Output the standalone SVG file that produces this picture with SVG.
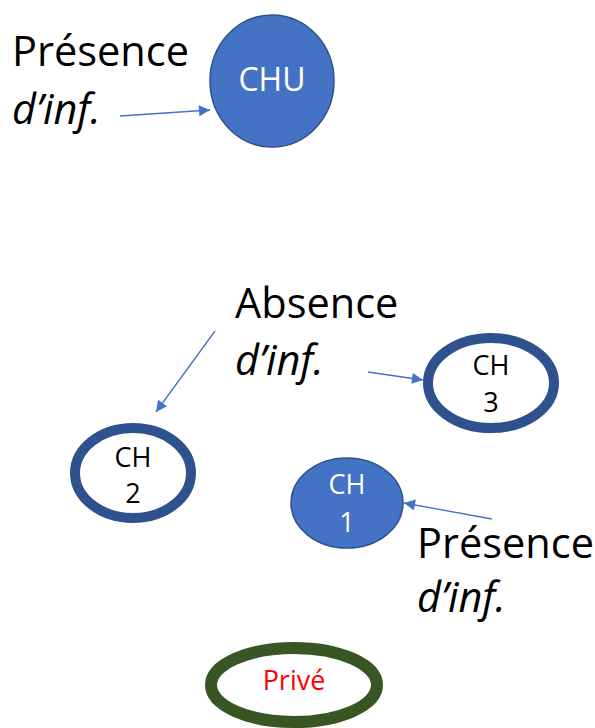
<svg xmlns="http://www.w3.org/2000/svg" width="595" height="728" viewBox="0 0 595 728">
  <defs>
    <marker id="arrow" viewBox="0 0 10 10" refX="10" refY="5" markerWidth="15" markerHeight="11" orient="auto" markerUnits="userSpaceOnUse">
      <path d="M0,0 L10,5 L0,10 Z" fill="#4472C4"/>
    </marker>
    <style>
      .lbl { font-family: "Open Sans", "Liberation Sans", sans-serif; font-size: 41.5px; fill: #000; }
      .it { font-style: italic; }
      .node-txt { font-family: "Open Sans", "Liberation Sans", sans-serif; font-size: 27px; text-anchor: middle; }
      .solid { fill: #4472C4; stroke: #2F528F; stroke-width: 1.5; }
      .ring { fill: #fff; stroke: #2F528F; stroke-width: 10; }
      .conn { stroke: #4472C4; stroke-width: 1.3; fill: none; marker-end: url(#arrow); }
    </style>
  </defs>

  <rect width="595" height="728" fill="#fff"/>

  <!-- labels -->
  <g id="label-top">
    <text class="lbl" x="12" y="66">Présence</text>
    <text class="lbl it" x="12" y="124">d’inf.</text>
  </g>
  <g id="label-absence">
    <text class="lbl" x="235" y="318">Absence</text>
    <text class="lbl it" x="235" y="375">d’inf.</text>
  </g>
  <g id="label-bottom">
    <text class="lbl" x="417" y="558">Présence</text>
    <text class="lbl it" x="417" y="612">d’inf.</text>
  </g>

  <!-- nodes -->
  <g id="chu">
    <ellipse class="solid" cx="272" cy="81" rx="62" ry="66"/>
    <text class="node-txt" x="272" y="91" fill="#fff" style="font-size:32px">CHU</text>
  </g>
  <g id="ch3">
    <ellipse class="ring" cx="491" cy="383" rx="63" ry="45"/>
    <text class="node-txt" x="491" y="375" fill="#000">CH</text>
    <text class="node-txt" x="491" y="412" fill="#000">3</text>
  </g>
  <g id="ch2">
    <ellipse class="ring" cx="133" cy="473" rx="58" ry="45"/>
    <text class="node-txt" x="133" y="467" fill="#000">CH</text>
    <text class="node-txt" x="133" y="503" fill="#000">2</text>
  </g>
  <g id="ch1">
    <ellipse class="solid" cx="347" cy="503" rx="56" ry="45"/>
    <text class="node-txt" x="347" y="494" fill="#fff">CH</text>
    <text class="node-txt" x="347" y="532" fill="#fff">1</text>
  </g>
  <g id="prive">
    <ellipse cx="294" cy="685" rx="83" ry="37" fill="#fff" stroke="#375623" stroke-width="12"/>
    <text class="node-txt" x="294" y="690" fill="#FF0000" style="font-size:27px">Privé</text>
  </g>

  <!-- connectors -->
  <g id="connectors">
    <line class="conn" x1="120" y1="116" x2="210" y2="110"/>
    <line class="conn" x1="215" y1="331" x2="156" y2="412"/>
    <line class="conn" x1="368" y1="372" x2="423" y2="380"/>
    <line class="conn" x1="492" y1="519" x2="404" y2="503"/>
  </g>
</svg>
